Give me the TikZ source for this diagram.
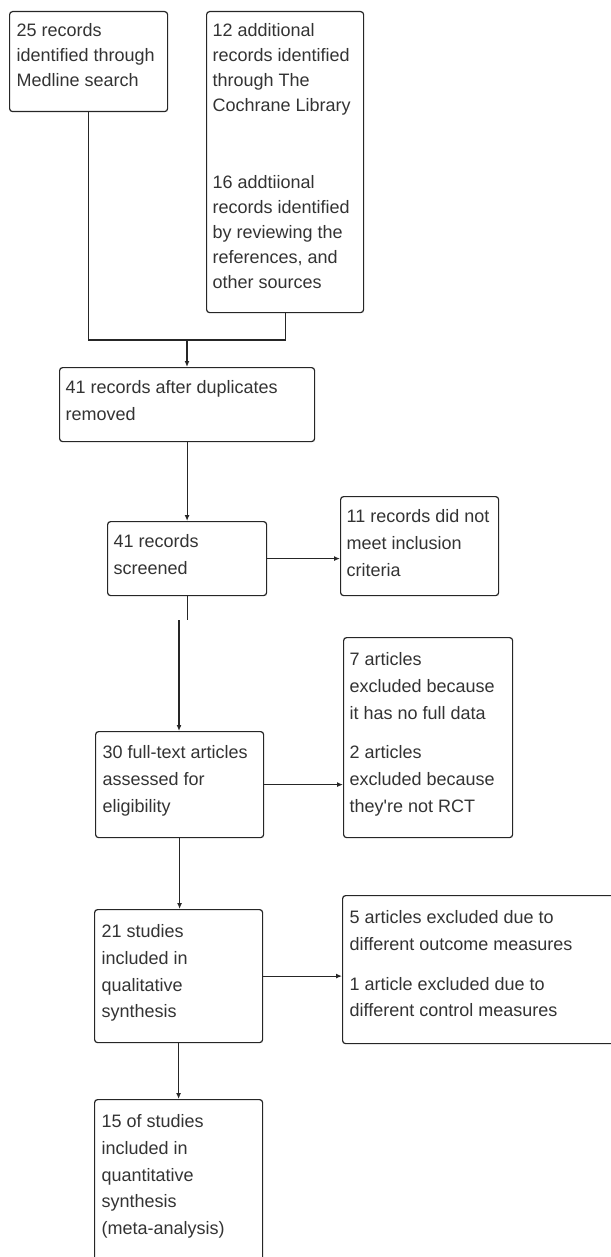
\documentclass[tikz,border=0pt]{standalone}
\usepackage{fontspec}
\setmainfont{Liberation Sans}
\usetikzlibrary{arrows.meta}

\begin{document}
\begin{tikzpicture}[x = 1pt, y = -1pt, line width = 1.2pt, > = {Latex[length = 6pt, width = 5pt]},
	box/.style = {draw = black!85, rounded corners = 3pt, anchor = north west, inner sep = 0pt},
	txt/.style = {anchor = north west, align = left, inner sep = 0pt, text = black!80,
		font = \fontsize{18}{26.7}\selectfont},
	toptxt/.style = {txt, font = \fontsize{18}{25}\selectfont}]

	\useasboundingbox (0, 0) rectangle (610, 1257);

	% Records found by the searches

	\node [box, minimum width = 158, minimum height = 100] (medline) at (9, 11) {};
	\node [toptxt] (medline-t) at ([shift = {(7, 12)}] medline.north west)
		{25 records\\identified through\\Medline search};

	\node [box, minimum width = 157, minimum height = 301] (cochrane) at (206, 11) {};
	\node [toptxt] (cochrane-t) at ([shift = {(6, 12)}] cochrane.north west)
		{12 additional\\records identified\\through The\\Cochrane Library\\[52pt]
		16 addtiional\\records identified\\by reviewing the\\references, and\\other sources};

	% Screening

	\node [box, minimum width = 255, minimum height = 74] (dup) at (59, 367) {};
	\node [txt] (dup-t) at ([shift = {(6, 13)}] dup.north west)
		{41 records after duplicates\\removed};

	\node [box, minimum width = 159, minimum height = 74] (screened) at (107, 521) {};
	\node [txt] (screened-t) at ([shift = {(6, 13)}] screened.north west)
		{41 records\\screened};

	\node [box, minimum width = 158, minimum height = 99] (notmet) at (340, 496) {};
	\node [txt] (notmet-t) at ([shift = {(6, 13)}] notmet.north west)
		{11 records did not\\meet inclusion\\criteria};

	% Eligibility

	\node [box, minimum width = 168, minimum height = 106] (fulltext) at (95, 731) {};
	\node [txt] (fulltext-t) at ([shift = {(7, 14)}] fulltext.north west)
		{30 full-text articles\\assessed for\\eligibility};

	\node [box, minimum width = 169, minimum height = 200] (excl) at (343, 637) {};
	\node [txt] (excl-t) at ([shift = {(6, 15)}] excl.north west)
		{7 articles\\excluded because\\it has no full data\\[13pt]
		2 articles\\excluded because\\they\textquotesingle re not RCT};

	% Included studies

	\node [box, minimum width = 168, minimum height = 133] (qual) at (94, 909) {};
	\node [txt] (qual-t) at ([shift = {(7, 15)}] qual.north west)
		{21 studies\\included in\\qualitative\\synthesis};

	\node [box, minimum width = 274, minimum height = 148] (outcome) at (342, 895) {};
	\node [txt] (outcome-t) at ([shift = {(7, 15)}] outcome.north west)
		{5 articles excluded due to\\different outcome measures\\[13pt]
		1 article excluded due to\\different control measures};

	\node [box, minimum width = 168, minimum height = 165] (quant) at (94, 1099) {};
	\node [txt] (quant-t) at ([shift = {(7, 15)}] quant.north west)
		{15 of studies\\included in\\quantitative\\synthesis\\(meta-analysis)};

	% Connectors

	\coordinate (join) at (187, 340);
	\coordinate (gap) at (179, 620);

	\begin{scope}[draw = black!85]

		\draw (medline.south) |- (join) -| (cochrane.south);
		\draw [->] (join) -- (join |- dup.north);
		\draw [->] (dup.south) -- (screened.north);
		\draw [->] (screened.east) -- (screened.east -| notmet.west);
		\draw (screened.south) -- ++(0, 24);
		\draw [->] (gap) -- (gap |- fulltext.north);
		\draw [->] (fulltext.east) -- (fulltext.east -| excl.west);
		\draw [->] (fulltext.south) -- (fulltext.south |- qual.north);
		\draw [->] (qual.east) -- (qual.east -| outcome.west);
		\draw [->] (qual.south) -- (quant.north);

	\end{scope}

\end{tikzpicture}
\end{document}
